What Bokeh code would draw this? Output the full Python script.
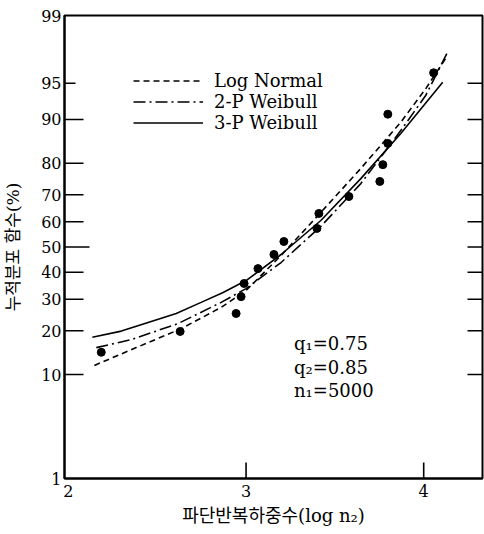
from statistics import NormalDist
import numpy as np
from bokeh.plotting import figure
from bokeh.models import (FixedTicker, CustomJSTickFormatter, Range1d, Legend,
                          LegendItem, Label)
from bokeh.embed import file_html
from bokeh.resources import INLINE

# ---------------- data ----------------
y_tick_pct = [1, 10, 20, 30, 40, 50, 60, 70, 80, 90, 95, 99]
x_ticks = [2, 3, 4]

obs_logn = [2.185, 2.629, 2.944, 2.972, 2.989, 3.067, 3.157, 3.213,
            3.399, 3.410, 3.579, 3.753, 3.770, 3.798, 3.798, 4.056]
obs_pct = [14.5, 19.8, 25.2, 30.9, 35.7, 41.4, 47.0, 52.2,
           57.4, 63.2, 69.4, 74.5, 79.6, 85.1, 90.9, 96.0]

ln_logn = [2.146, 2.382, 2.635, 2.860, 3.000, 3.197, 3.421, 3.646, 3.871, 4.011, 4.129]
ln_pct = [11.7, 15.6, 20.6, 27.2, 33.1, 46.6, 63.6, 78.5, 89.5, 94.4, 97.2]

w2_logn = [2.157, 2.354, 2.618, 2.860, 3.000, 3.197, 3.421, 3.646, 3.871, 4.011, 4.140]
w2_pct = [15.6, 17.6, 22.1, 28.9, 33.8, 43.8, 58.2, 73.8, 87.9, 93.6, 97.6]

w3_logn = [2.135, 2.298, 2.466, 2.607, 2.747, 2.871, 3.000, 3.197, 3.421, 3.646, 3.871, 4.107]
w3_pct = [18.2, 19.9, 22.7, 25.2, 28.9, 32.4, 36.8, 47.0, 60.5, 75.4, 87.3, 95.1]

legend_names = ["Log Normal", "2-P Weibull", "3-P Weibull"]
notes = ["q\u2081=0.75", "q\u2082=0.85", "n\u2081=5000"]

# ---------------- probability (normal) scale ----------------
nd = NormalDist()
def probit(pcts):
    return [nd.inv_cdf(v / 100.0) for v in pcts]

z_ticks = probit(y_tick_pct)

SERIF = "DejaVu Serif"
KFONT = "'DejaVu Serif', 'Noto Sans CJK KR'"

p = figure(width=484, height=534,
           x_range=Range1d(1.978, 4.331),
           y_range=Range1d(z_ticks[0], z_ticks[-1]),
           output_backend="svg", toolbar_location=None,
           min_border_left=63, min_border_right=2,
           min_border_top=15, min_border_bottom=56)
p.grid.visible = False
p.outline_line_color = "black"
p.outline_line_width = 2
p.background_fill_color = "white"

# y axis
ya = p.yaxis[0]
ya.ticker = FixedTicker(ticks=z_ticks)
ya.formatter = CustomJSTickFormatter(
    args=dict(zt=z_ticks, lbls=[str(v) for v in y_tick_pct]),
    code="""
    const i = zt.findIndex(t => Math.abs(t - tick) < 1e-6);
    return i >= 0 ? lbls[i] : "";
    """)
ya.major_tick_in = 0
ya.major_tick_out = 0
ya.minor_tick_in = 0
ya.minor_tick_out = 0
ya.axis_line_width = 2
ya.axis_line_color = "black"
ya.major_label_text_font = SERIF
ya.major_label_text_font_size = "16px"
ya.major_label_text_color = "black"
ya.major_label_standoff = 3
ya.axis_label = "누적분포 함수(%)"
ya.axis_label_text_font = KFONT
ya.axis_label_text_font_size = "17px"
ya.axis_label_text_font_style = "normal"
ya.axis_label_text_color = "black"
ya.axis_label_standoff = 15

# x axis
xa = p.xaxis[0]
xa.ticker = FixedTicker(ticks=x_ticks)
xa.major_tick_in = 0
xa.major_tick_out = 0
xa.minor_tick_in = 0
xa.minor_tick_out = 0
xa.axis_line_width = 2
xa.axis_line_color = "black"
xa.major_label_text_font = SERIF
xa.major_label_text_font_size = "16px"
xa.major_label_text_color = "black"
xa.major_label_standoff = 6
xa.axis_label = "파단반복하중수(log n\u2082)"
xa.axis_label_text_font = KFONT
xa.axis_label_text_font_size = "18px"
xa.axis_label_text_font_style = "normal"
xa.axis_label_text_color = "black"
xa.axis_label_standoff = 5

# inner tick marks (drawn inward from the frame edges)
inner_pct = y_tick_pct[1:-1]
inner_z = probit(inner_pct)
left_len = [11 if v == 95 else (25 if v == 50 else 19) for v in inner_pct]
p.ray(x=[p.x_range.start] * len(inner_z), y=inner_z, length=left_len,
      length_units="screen", angle=0, line_color="black", line_width=1.6)
p.ray(x=[p.x_range.end] * len(inner_z), y=inner_z, length=15,
      length_units="screen", angle=np.pi, line_color="black", line_width=1.6)
p.ray(x=x_ticks[1:], y=[p.y_range.start] * len(x_ticks[1:]), length=16,
      length_units="screen", angle=np.pi / 2, line_color="black", line_width=1.6)

# curves
r_ln = p.line(ln_logn, probit(ln_pct), line_color="black", line_width=1.6,
              line_dash="6 4")
r_w2 = p.line(w2_logn, probit(w2_pct), line_color="black", line_width=1.6,
              line_dash="12 4 2 4")
r_w3 = p.line(w3_logn, probit(w3_pct), line_color="black", line_width=1.6)

# observations
p.scatter(obs_logn, probit(obs_pct), size=8, marker="circle",
          fill_color="black", line_color="black")

legend = Legend(items=[LegendItem(label=legend_names[0], renderers=[r_ln]),
                       LegendItem(label=legend_names[1], renderers=[r_w2]),
                       LegendItem(label=legend_names[2], renderers=[r_w3])],
                location=(69, 345), padding=0, margin=0, spacing=0,
                border_line_color=None, background_fill_alpha=0,
                glyph_width=70, glyph_height=19, label_height=19,
                label_standoff=11, label_text_font=SERIF,
                label_text_font_size="18px", label_text_color="black")
p.add_layout(legend, "center")

note_z = [-0.970, -1.211, -1.442]
for t, zz in zip(notes, note_z):
    p.add_layout(Label(x=3.27, y=zz, text=t, text_font=SERIF,
                       text_font_size="18px", text_baseline="middle",
                       text_color="black"))

open("out.html", "w").write(file_html(p, INLINE))
